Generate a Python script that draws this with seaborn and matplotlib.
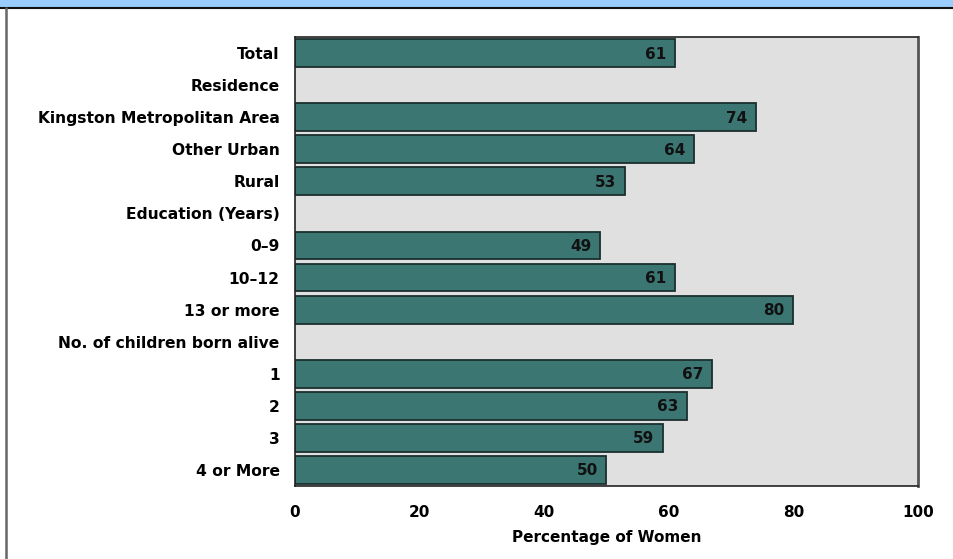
import numpy as np
import pandas as pd
import matplotlib
matplotlib.use("Agg")
import matplotlib.pyplot as plt
from matplotlib.lines import Line2D
from matplotlib.patches import Rectangle
import seaborn as sns

categories = [
    "Total", "Residence", "Kingston Metropolitan Area", "Other Urban", "Rural",
    "Education (Years)", "0\u20139", "10\u201312", "13 or more",
    "No. of children born alive", "1", "2", "3", "4 or More",
]
percentages = [61, np.nan, 74, 64, 53, np.nan, 49, 61, 80, np.nan, 67, 63, 59, 50]
x_ticks = [0, 20, 40, 60, 80, 100]
x_label = "Percentage of Women"

sns.set_theme(style="white")
plt.rcParams["font.family"] = ["DejaVu Sans"]

df = pd.DataFrame({"group": categories, "pct": percentages})

fig = plt.figure(figsize=(9.54, 5.59), dpi=100)
ax = fig.add_axes([0.3092, 0.1306, 0.6530, 0.8032])
ax.set_facecolor("#E0E0E0")

sns.barplot(data=df.dropna(), x="pct", y="group", order=categories, orient="h",
            color="#3B7673", saturation=1, width=0.87, edgecolor="#1A2E2D",
            linewidth=1.3, ax=ax)

for bar in ax.patches:
    w = bar.get_width()
    if np.isnan(w) or w == 0:
        continue
    ax.text(w - 1.4, bar.get_y() + bar.get_height() / 2 + 0.03, f"{w:.0f}",
            ha="right", va="center", fontsize=11, fontweight="bold", color="#111111")

ax.set_xlim(0, 100)
ax.set_xticks(x_ticks)
ax.set_xticklabels([str(t) for t in x_ticks], fontsize=11, fontweight="bold", color="black")
ax.tick_params(axis="x", length=0, pad=14)
ax.tick_params(axis="y", length=0, pad=11)
for lbl in ax.get_yticklabels():
    lbl.set_fontsize(11.2)
    lbl.set_fontweight("bold")
    lbl.set_color("black")
ax.set_ylabel("")
ax.set_xlabel(x_label, fontsize=11, fontweight="bold", labelpad=7, color="black")
for side in ["top", "left", "right", "bottom"]:
    ax.spines[side].set_visible(True)
    ax.spines[side].set_color("#222222")
    ax.spines[side].set_linewidth(1.2)
ax.spines["right"].set_color("#555555")
ax.spines["right"].set_linewidth(2)

# header band and frame line of the panel
fig.patches.append(Rectangle((0, 1 - 7 / 559), 1, 7 / 559, transform=fig.transFigure,
                             facecolor="#99CCFF", edgecolor="none", zorder=0))
fig.lines.append(Line2D([0, 1], [1 - 7.5 / 559] * 2, transform=fig.transFigure,
                        color="#111111", linewidth=1.5))
fig.lines.append(Line2D([6.5 / 954] * 2, [0, 1 - 7.5 / 559], transform=fig.transFigure,
                        color="#666666", linewidth=1.8))

fig.savefig("out.png", dpi=100)
